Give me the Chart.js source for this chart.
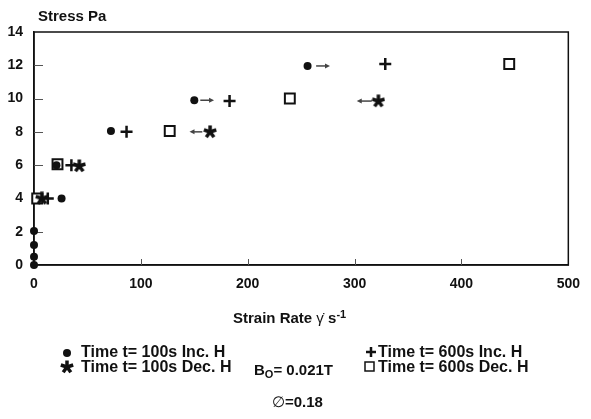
<!DOCTYPE html>
<html>
<head>
<meta charset="utf-8">
<title>Stress vs strain rate</title>
<script src="https://cdn.jsdelivr.net/npm/chart.js@4.4.1/dist/chart.umd.min.js"></script>
<style>
  html, body { margin: 0; padding: 0; background: #fff; }
  #wrap { position: relative; width: 591px; height: 419px; overflow: hidden;
          font-family: "Liberation Sans", Arial, Helvetica, sans-serif; font-weight: bold; color: #111; }
  #chart { position: absolute; left: 0; top: 0; }
  .txt { position: absolute; white-space: nowrap; line-height: 1; }
  .f15 { font-size: 15px; }
  .f16 { font-size: 16px; }
  sup { font-size: 11px; vertical-align: 5px; line-height: 0; }
  sub { font-size: 11px; vertical-align: -3px; line-height: 0; }
  .gam { font-weight: normal; }
</style>
</head>
<body>
<div id="wrap">
  <canvas id="chart" width="591" height="419"></canvas>
  <div class="txt f15" style="left:38px; top:8px;">Stress Pa</div>
  <div class="txt f15" style="left:233px; top:310px;">Strain Rate <span class="gam">γ̇</span> s<sup>-1</sup></div>
  <div class="txt f16" style="left:81px; top:344px;">Time t= 100s Inc. H</div>
  <div class="txt f16" style="left:81px; top:359px;">Time t= 100s Dec. H</div>
  <div class="txt f16" style="left:378px; top:344px;">Time t= 600s Inc. H</div>
  <div class="txt f16" style="left:378px; top:359px;">Time t= 600s Dec. H</div>
  <div class="txt f15" style="left:254px; top:362px;">B<sub>O</sub>= 0.021T</div>
  <div class="txt f15" style="left:272px; top:394px;"><span class="gam">∅</span>=0.18</div>
</div>
<script>
// data (strain rate s-1, stress Pa)
const inc100Rate   = [0, 0, 0, 0, 25.8, 21, 72, 150, 256];
const inc100Stress = [0, 0.5, 1.2, 2.05, 4.0, 6.0, 8.05, 9.9, 11.96];

const dec100Rate   = [7.4, 42.4, 164.8, 322.3];
const dec100Stress = [4.0, 5.95, 8.0, 9.85];

const inc600Rate   = [12.9, 35, 86.6, 183, 328.7];
const inc600Stress = [4.0, 6.0, 8.0, 9.85, 12.08];

const dec600Rate   = [3, 22, 127, 239.4, 444.7];
const dec600Stress = [4.0, 6.05, 8.05, 10.0, 12.08];

// little arrows next to some points (tail -> head, in data units)
const arrowStress = [9.9, 11.96, 8.0, 9.85];
const arrowTail   = [155.6, 264, 157.5, 316];
const arrowHead   = [168.5, 277, 145.5, 302];

const xTickMarks = [100, 200, 300, 400];
const yTickMarks = [2, 4, 6, 8, 10, 12];

const INK = '#111';
const tickFont = { family: '"Liberation Sans", Arial, sans-serif', size: 14, weight: 'bold' };

function pts(xs, ys) {
    return xs.map((x, i) => ({ x: x, y: ys[i] }));
}

// heavy 5-armed asterisk used for the t=100s Dec. series
function makeStar(size) {
    const c = document.createElement('canvas');
    c.width = size; c.height = size;
    const g = c.getContext('2d');
    const r = size / 2;
    g.strokeStyle = INK;
    g.lineWidth = size * 0.25;
    for (let k = 0; k < 5; k++) {
        const a = (-90 + k * 72) * Math.PI / 180;
        g.beginPath();
        g.moveTo(r, r);
        g.lineTo(r + Math.cos(a) * (r - 0.5), r + Math.sin(a) * (r - 0.5));
        g.stroke();
    }
    return c;
}
const starImg = makeStar(14);

function drawArrow(ctx, x0, x1, y) {
    const dir = x1 > x0 ? 1 : -1;
    ctx.beginPath();
    ctx.moveTo(x0, y);
    ctx.lineTo(x1 - dir * 3, y);
    ctx.stroke();
    ctx.beginPath();
    ctx.moveTo(x1, y);
    ctx.lineTo(x1 - dir * 5, y - 2.5);
    ctx.lineTo(x1 - dir * 5, y + 2.5);
    ctx.closePath();
    ctx.fill();
}

const framePlugin = {
    id: 'frame',
    beforeDatasetsDraw(chart) {
        const { ctx, chartArea: a } = chart;
        const xs = chart.scales.x, ys = chart.scales.y;
        ctx.save();
        // box round the plot
        ctx.strokeStyle = INK;
        ctx.lineWidth = 1.5;
        ctx.strokeRect(a.left, a.top, a.right - a.left, a.bottom - a.top);

        // tick marks pointing inward
        ctx.strokeStyle = '#555';
        ctx.lineWidth = 1;
        yTickMarks.forEach(v => {
            const py = Math.round(ys.getPixelForValue(v)) + 0.5;
            ctx.beginPath(); ctx.moveTo(a.left, py); ctx.lineTo(a.left + 9, py); ctx.stroke();
        });
        xTickMarks.forEach(v => {
            const px = Math.round(xs.getPixelForValue(v)) + 0.5;
            ctx.beginPath(); ctx.moveTo(px, a.bottom); ctx.lineTo(px, a.bottom - 6); ctx.stroke();
        });

        // arrows
        ctx.strokeStyle = '#444';
        ctx.fillStyle = '#444';
        ctx.lineWidth = 1.5;
        arrowStress.forEach((s, i) => {
            drawArrow(ctx, xs.getPixelForValue(arrowTail[i]), xs.getPixelForValue(arrowHead[i]), ys.getPixelForValue(s));
        });
        ctx.restore();
    },
    afterDraw(chart) {
        const ctx = chart.ctx;
        ctx.save();
        // legend symbols
        ctx.fillStyle = INK;
        ctx.strokeStyle = INK;
        ctx.beginPath(); ctx.arc(67, 353, 4, 0, Math.PI * 2); ctx.fill();
        ctx.drawImage(starImg, 60, 360);
        ctx.lineWidth = 2.5;
        ctx.beginPath(); ctx.moveTo(366, 352); ctx.lineTo(376, 352); ctx.moveTo(371, 347); ctx.lineTo(371, 357); ctx.stroke();
        ctx.lineWidth = 1.5;
        ctx.strokeRect(365, 362, 9, 9);
        ctx.restore();
    }
};

new Chart(document.getElementById('chart'), {
    type: 'scatter',
    data: {
        datasets: [
            { label: 'Time t= 100s Inc. H', data: pts(inc100Rate, inc100Stress), clip: false,
              pointStyle: 'circle', pointRadius: 4, backgroundColor: INK, borderColor: INK, borderWidth: 0 },
            { label: 'Time t= 100s Dec. H', data: pts(dec100Rate, dec100Stress), clip: false,
              pointStyle: starImg, pointRadius: 7 },
            { label: 'Time t= 600s Inc. H', data: pts(inc600Rate, inc600Stress), clip: false,
              pointStyle: 'cross', pointRadius: 6, borderColor: INK, borderWidth: 2.5 },
            { label: 'Time t= 600s Dec. H', data: pts(dec600Rate, dec600Stress), clip: false,
              pointStyle: 'rect', pointRadius: 7, backgroundColor: '#fff', borderColor: INK, borderWidth: 2 }
        ]
    },
    options: {
        responsive: false,
        animation: false,
        events: [],
        layout: { padding: { top: 32, right: 14, left: 0, bottom: 0 } },
        plugins: { legend: { display: false }, tooltip: { enabled: false } },
        scales: {
            x: {
                type: 'linear', min: 0, max: 500,
                ticks: { stepSize: 100, font: tickFont, color: INK, padding: 11, maxRotation: 0 },
                grid: { display: false, drawTicks: false },
                border: { color: INK, width: 1.5 },
                afterFit(s) { s.height = 154; }
            },
            y: {
                min: 0, max: 14,
                ticks: { stepSize: 2, font: tickFont, color: INK, padding: 11 },
                grid: { display: false, drawTicks: false },
                border: { color: INK, width: 1.5 },
                afterFit(s) { s.width = 34; }
            }
        }
    },
    plugins: [framePlugin]
});
</script>
</body>
</html>
